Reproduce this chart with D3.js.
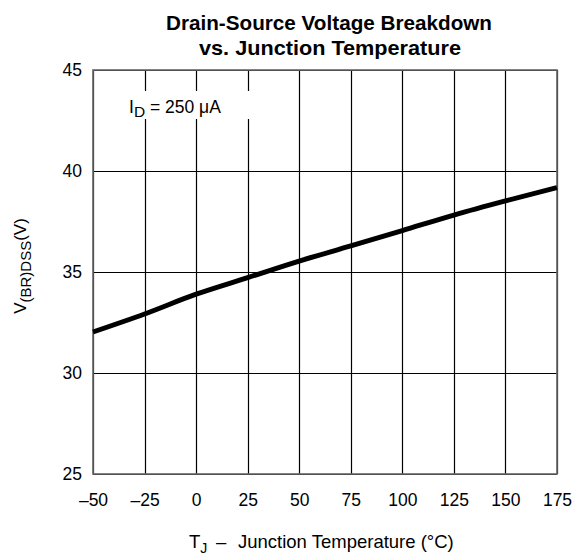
<!DOCTYPE html>
<html><head><meta charset="utf-8">
<script src="https://cdn.jsdelivr.net/npm/d3@7"></script>
<style>body{margin:0;background:#fff;} svg{display:block;font-family:"Liberation Sans",Arial,sans-serif;} text{white-space:pre;}</style>
</head><body>
<script>
const temps = [-50, -25, 0, 25, 50, 75, 100, 125, 150, 175];
const vbr = [32.03, 32.92, 33.9, 34.72, 35.54, 36.29, 37.05, 37.82, 38.52, 39.18];
const xTicks = [-50, -25, 0, 25, 50, 75, 100, 125, 150, 175];
const yTicks = [25, 30, 35, 40, 45];

const W = 573, H = 556;
const m = {l: 93, r: 16, t: 70, b: 82};
const svg = d3.select("body").append("svg").attr("width", W).attr("height", H);
const x = d3.scaleLinear().domain([-50, 175]).range([m.l, W - m.r]);
const y = d3.scaleLinear().domain([25, 45]).range([H - m.b, m.t]);
const px = v => Math.round(v) + 0.5;

// grid
svg.append("g").selectAll("line").data(xTicks).join("line")
  .attr("x1", d => px(x(d))).attr("x2", d => px(x(d))).attr("y1", y(25)).attr("y2", y(45))
  .attr("stroke", "#000").attr("stroke-width", 1.2);
svg.append("g").selectAll("line").data(yTicks).join("line")
  .attr("y1", d => px(y(d))).attr("y2", d => px(y(d))).attr("x1", x(-50)).attr("x2", x(175))
  .attr("stroke", "#000").attr("stroke-width", 1.2);

// frame
svg.append("rect").attr("x", x(-50)).attr("y", y(45)).attr("width", x(175) - x(-50)).attr("height", y(25) - y(45))
  .attr("fill", "none").attr("stroke", "#666").attr("stroke-width", 1.6);

// annotation box
svg.append("rect").attr("x", x(-50) + 8).attr("y", 91).attr("width", 185).attr("height", 28).attr("fill", "#fff");
const ann = svg.append("text").attr("x", 129).attr("y", 113).attr("font-size", 17.5);
ann.append("tspan").text("I");
ann.append("tspan").attr("dy", 4).attr("font-size", 15.5).text("D");
ann.append("tspan").attr("dy", -4).text(" = 250 \u03BCA");

// line
svg.append("path").datum(temps.map((t, i) => [t, vbr[i]]))
  .attr("fill", "none").attr("stroke", "#000").attr("stroke-width", 5)
  .attr("d", d3.line().x(d => x(d[0])).y(d => y(d[1])).curve(d3.curveMonotoneX));

// axes labels
const xAxis = d3.axisBottom(x).tickValues(xTicks).tickSize(0).tickPadding(0)
  .tickFormat(d => d < 0 ? "\u2013" + Math.abs(d) : String(d));
const gx = svg.append("g").attr("transform", `translate(0,${y(25)})`).call(xAxis);
gx.select(".domain").remove();
gx.selectAll("text").attr("font-size", 17.5).attr("font-family", "Liberation Sans, Arial, sans-serif")
  .attr("fill", "#000").attr("y", 32).attr("dy", "0");

const yAxis = d3.axisLeft(y).tickValues(yTicks).tickSize(0).tickPadding(11);
const gy = svg.append("g").attr("transform", `translate(${x(-50)},0)`).call(yAxis);
gy.select(".domain").remove();
gy.selectAll("text").attr("font-size", 17.5).attr("font-family", "Liberation Sans, Arial, sans-serif")
  .attr("fill", "#000").attr("dy", "0.3em");

// titles
svg.append("text").attr("x", 329).attr("y", 30).attr("text-anchor", "middle").attr("font-size", 21).attr("font-weight", "bold")
  .attr("textLength", 326).attr("lengthAdjust", "spacingAndGlyphs")
  .text("Drain-Source Voltage Breakdown");
svg.append("text").attr("x", 330).attr("y", 55).attr("text-anchor", "middle").attr("font-size", 21).attr("font-weight", "bold")
  .attr("textLength", 262).attr("lengthAdjust", "spacingAndGlyphs")
  .text("vs. Junction Temperature");

// x axis title
const xt = svg.append("text").attr("y", 548).attr("font-size", 18.5);
xt.append("tspan").attr("x", 189).text("T");
xt.append("tspan").attr("dy", 5).attr("font-size", 14).text("J");
xt.append("tspan").attr("dy", -5).attr("x", 216).text("\u2013");
xt.append("tspan").attr("x", 238).text("Junction Temperature (\u00B0C)");

// y axis title
const yt = svg.append("text").attr("transform", "translate(26,266) rotate(-90)").attr("text-anchor", "middle").attr("font-size", 17);
yt.append("tspan").text("V");
yt.append("tspan").attr("dy", 5).attr("font-size", 15).text("(BR)DSS");
yt.append("tspan").attr("dy", -5).text("(V)");
</script>
</body></html>
